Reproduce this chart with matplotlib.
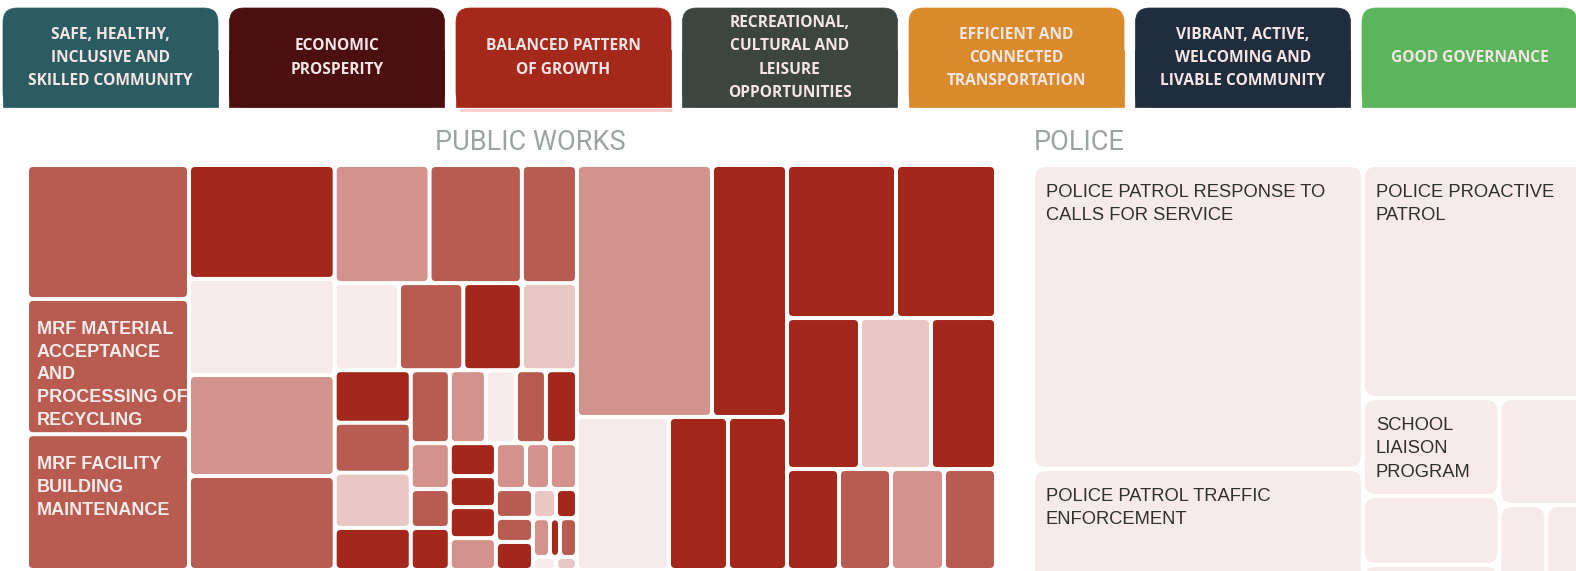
import numpy as np
import matplotlib.pyplot as plt
from matplotlib.patches import FancyBboxPatch, Rectangle

# top navigation tabs
tab_labels = ["SAFE, HEALTHY,\nINCLUSIVE AND\nSKILLED COMMUNITY", "ECONOMIC\nPROSPERITY",
              "BALANCED PATTERN\nOF GROWTH", "RECREATIONAL,\nCULTURAL AND\nLEISURE\nOPPORTUNITIES",
              "EFFICIENT AND\nCONNECTED\nTRANSPORTATION", "VIBRANT, ACTIVE,\nWELCOMING AND\nLIVABLE COMMUNITY",
              "GOOD GOVERNANCE"]
tab_colors = ["#2b5c61", "#4b0f0f", "#a4291b", "#3d4540", "#d98a2b", "#1f2d3d", "#5bb55b"]

# PUBLIC WORKS treemap values, nested per strip (slice and dice)
pw_strip_a = [217, 219, 220]
pw_strip_b = [166, 140, 147, 137]
pw_strip_c = [[112, 109, 65], [56, 56, 51, 48],
              [[40, 38, 42, 32],
               [[28.5, 26.3, 21.9, 21.9, 22.6],
                [[17.9, 15.2, 16.4], [15.2, 14.3, 14.3, 14.7],
                 [[13.8, 11.0, 12.4],
                  [[10.7, 8.9, 10.4], [[6.7, 6.1], [6.6, 3.9, 6.6], [3.0, 2.7]]]]]]]]
pw_strip_d = [[340.2, 189.0], [140.8, 90.3, 90.3]]
pw_strip_e = [[166.8, 153.0], [110.2, 107.2, 98.2], [52.5, 52.5, 53.5, 52.5]]

# shade class of each leaf (0 = lightest ... 4 = darkest)
pw_shade_a = [3, 3, 3]
pw_shade_b = [4, 0, 2, 3]
pw_shade_c = [2, 3, 3, 0, 3, 4, 1, 4, 3, 1, 4, 3, 2, 0, 3, 4, 2, 3, 4,
              4, 4, 4, 2, 2, 2, 2, 3, 3, 4, 1, 4, 2, 4, 3, 0, 1]
pw_shade_d = [2, 4, 0, 4, 4]
pw_shade_e = [4, 4, 4, 1, 4, 4, 3, 2, 3]
pw_labels_a = ["", "MRF MATERIAL\nACCEPTANCE\nAND\nPROCESSING OF\nRECYCLING",
               "MRF FACILITY\nBUILDING\nMAINTENANCE"]

# POLICE treemap
police_col_1 = [1006.2, 433.6]
police_col_2 = [554.5, [[134.3, 94.5, 48.0], [108.1, [44.7, 51.3]]]]
police_labels = ["POLICE PATROL RESPONSE TO\nCALLS FOR SERVICE", "POLICE PATROL TRAFFIC\nENFORCEMENT",
                 "POLICE PROACTIVE\nPATROL", "SCHOOL\nLIAISON\nPROGRAM", "", "", "", "", ""]

shade_colors = ["#f6eaea", "#e9c7c4", "#d3928b", "#b85c52", "#a3281b"]


def node_sum(node):
    if isinstance(node, list):
        return sum(node_sum(c) for c in node)
    return node


def layout(node, x0, y0, x1, y1, horiz, out):
    if not isinstance(node, list):
        out.append((x0, y0, x1, y1))
        return
    total = node_sum(node)
    pos = x0 if horiz else y0
    for child in node:
        frac = node_sum(child) / total
        if horiz:
            step = (x1 - x0) * frac
            layout(child, pos, y0, pos + step, y1, False, out)
        else:
            step = (y1 - y0) * frac
            layout(child, x0, pos, x1, pos + step, True, out)
        pos += step


fig = plt.figure(figsize=(15.76, 5.71), dpi=100)
ax = fig.add_axes([0, 0, 1, 1])
ax.set_xlim(0, 1576)
ax.set_ylim(571, 0)
ax.axis("off")

# tabs
for i, (lab, col) in enumerate(zip(tab_labels, tab_colors)):
    x0 = 3 + 226.5 * i
    ax.add_patch(FancyBboxPatch((x0, 8), 215, 99, boxstyle="round,pad=0,rounding_size=14",
                                fc=col, ec=col, lw=0.5))
    ax.add_patch(Rectangle((x0, 50), 215, 57, fc=col, ec=col, lw=0.5))
    ax.text(x0 + 107.5, 58, lab, ha="center", va="center", color="#f4e6e6",
            fontsize=11.2, fontweight="bold", family="Open Sans", linespacing=1.6)
ax.plot([460, 672], [110, 110], color="#f3cfc8", lw=2, solid_capstyle="butt")

# titles
ax.text(530, 142, "PUBLIC WORKS", ha="center", va="center", color="#9da2a2",
        fontsize=19.5, family="Roboto")
ax.text(1034, 142, "POLICE", ha="left", va="center", color="#9da2a2",
        fontsize=19.5, family="Roboto")

# public works treemap
pw_tree = [pw_strip_a, pw_strip_b, pw_strip_c, pw_strip_d, pw_strip_e]
pw_shades = pw_shade_a + pw_shade_b + pw_shade_c + pw_shade_d + pw_shade_e
pw_labels = pw_labels_a + [""] * (len(pw_shades) - len(pw_labels_a))
rects = []
layout(pw_tree, 27, 165, 996, 570, True, rects)
g = 2.0
for (x0, y0, x1, y1), s, lab in zip(rects, pw_shades, pw_labels):
    p = FancyBboxPatch((x0 + g, y0 + g), x1 - x0 - 2 * g, y1 - y0 - 2 * g,
                       boxstyle="round,pad=0,rounding_size=4", fc=shade_colors[s], ec="none")
    ax.add_patch(p)
    if lab:
        t = ax.text(x0 + 10, y0 + 22, lab, ha="left", va="top", color="#f8ecea",
                    fontsize=13, fontweight="bold", family="Liberation Sans", linespacing=1.44)
        t.set_clip_path(p)

# police treemap
rects = []
layout([police_col_1, police_col_2], 1033, 165, 1600, 600, True, rects)
for (x0, y0, x1, y1), lab in zip(rects, police_labels):
    p = FancyBboxPatch((x0 + 2, y0 + 2), x1 - x0 - 4, y1 - y0 - 4,
                       boxstyle="round,pad=0,rounding_size=11", fc="#f6ebea", ec="none")
    ax.add_patch(p)
    if lab:
        t = ax.text(x0 + 13, y0 + 19, lab, ha="left", va="top", color="#303030",
                    fontsize=13.2, family="Liberation Sans", linespacing=1.5)
        t.set_clip_path(p)

fig.savefig("out.png", dpi=100, facecolor="white")
